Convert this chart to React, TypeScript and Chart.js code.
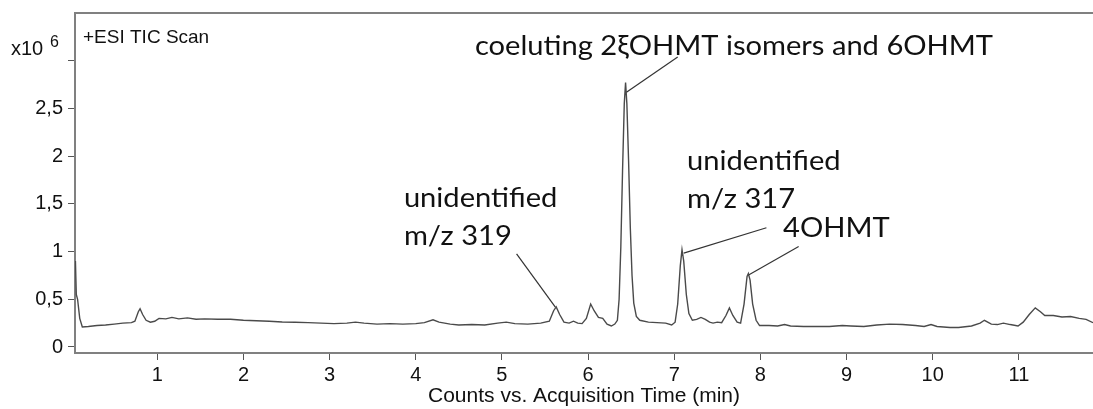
import React, { useEffect, useRef } from 'react';
import { Chart, registerables } from 'chart.js';

Chart.register(...registerables);

// Retention time (min) and TIC intensity (x10^6 counts)
const times = [
  0.05, 0.06, 0.075, 0.1, 0.13, 0.2, 0.3, 0.4, 0.5, 0.6, 0.7, 0.74, 0.78, 0.8, 0.83, 0.87, 0.92, 0.97,
  1.02, 1.1, 1.17, 1.25, 1.35, 1.45, 1.55, 1.7, 1.85, 2.0, 2.15, 2.3, 2.45, 2.6, 2.75, 2.9, 3.05, 3.2,
  3.3, 3.4, 3.55, 3.7, 3.85, 4.0, 4.1, 4.2, 4.27, 4.4, 4.5, 4.65, 4.8, 4.95, 5.05, 5.15, 5.3, 5.45,
  5.55, 5.6, 5.63, 5.67, 5.72, 5.78, 5.83, 5.88, 5.93, 5.98, 6.03, 6.07, 6.12, 6.17, 6.22, 6.27, 6.31,
  6.34, 6.36, 6.38, 6.4, 6.42, 6.435, 6.45, 6.47, 6.49, 6.51, 6.53, 6.56, 6.6, 6.7, 6.8, 6.9, 6.97,
  7.01, 7.04, 7.07, 7.09, 7.11, 7.14, 7.17, 7.21, 7.26, 7.31, 7.36, 7.41, 7.45, 7.5, 7.55, 7.6, 7.64,
  7.68, 7.73, 7.77, 7.81, 7.845, 7.86, 7.88, 7.91, 7.95, 7.99, 8.1, 8.2, 8.28, 8.35, 8.5, 8.65, 8.8,
  8.95, 9.05, 9.2, 9.35, 9.5, 9.65, 9.8, 9.9, 9.98, 10.05, 10.2, 10.3, 10.45, 10.55, 10.6, 10.68,
  10.75, 10.82, 10.9, 10.99, 11.05, 11.12, 11.19, 11.25, 11.3, 11.4, 11.5, 11.6, 11.7, 11.78, 11.86,
];
const counts = [
  0.9, 0.55, 0.5, 0.3, 0.21, 0.215, 0.225, 0.23, 0.24, 0.25, 0.255, 0.27, 0.37, 0.4, 0.34, 0.28, 0.26, 0.27,
  0.3, 0.295, 0.31, 0.295, 0.305, 0.29, 0.295, 0.29, 0.29, 0.28, 0.275, 0.27, 0.262, 0.26, 0.255, 0.25, 0.245, 0.25,
  0.26, 0.25, 0.24, 0.245, 0.24, 0.245, 0.255, 0.285, 0.26, 0.24, 0.23, 0.235, 0.23, 0.25, 0.26, 0.245, 0.24, 0.25,
  0.27, 0.38, 0.42, 0.34, 0.26, 0.25, 0.27, 0.25, 0.245, 0.3, 0.45, 0.38, 0.31, 0.3, 0.24, 0.22, 0.24,
  0.28, 0.5, 1.05, 1.85, 2.55, 2.77, 2.55, 1.95, 1.25, 0.75, 0.46, 0.32, 0.28, 0.26, 0.255, 0.25, 0.23,
  0.26, 0.45, 0.85, 1.02, 0.9, 0.55, 0.35, 0.28, 0.29, 0.31, 0.29, 0.26, 0.25, 0.26, 0.255, 0.33, 0.41,
  0.33, 0.26, 0.25, 0.45, 0.74, 0.77, 0.7, 0.45, 0.28, 0.225, 0.225, 0.22, 0.235, 0.22, 0.215, 0.215, 0.215,
  0.225, 0.22, 0.215, 0.23, 0.24, 0.235, 0.225, 0.215, 0.235, 0.215, 0.205, 0.205, 0.22, 0.25, 0.28, 0.24,
  0.235, 0.25, 0.235, 0.22, 0.26, 0.34, 0.41, 0.37, 0.33, 0.33, 0.315, 0.32, 0.3, 0.29, 0.255,
];

const xTicks = [1, 2, 3, 4, 5, 6, 7, 8, 9, 10, 11];
const yTicks = [0, 0.5, 1, 1.5, 2, 2.5, 3];
const yTickLabels = ['0', '0,5', '1', '1,5', '2', '2,5', ''];

// Peak labels: text anchor (time, intensity at first baseline), leader line from peak to label
const peakLabels = [
  { lines: ['coeluting 2ξOHMT isomers and 6OHMT'], at: [4.686, 3.058], from: [6.445, 2.67], to: [7.04, 3.04] },
  { lines: ['unidentified', 'm/z 319'], at: [3.862, 1.471], from: [5.62, 0.418], to: [5.17, 0.976] },
  { lines: ['unidentified', 'm/z 317'], at: [7.149, 1.855], from: [7.11, 0.983], to: [8.07, 1.25] },
  { lines: ['4OHMT'], at: [8.262, 1.157], from: [7.868, 0.756], to: [8.444, 1.052] },
];

const SANS = '"Liberation Sans", Arial, sans-serif';
const LABEL_FONT = '26px Lato, "Open Sans", sans-serif';
const LABEL_STRETCH = 1.12;
const LABEL_LINE_GAP = 38;
const FRAME = '#808080';
const TICK = '#555';

const decorations = {
  id: 'decorations',
  afterDraw(chart: any) {
    const { ctx, chartArea, scales } = chart;
    const xs = scales.x;
    const ys = scales.y;
    ctx.save();

    // top frame line
    ctx.strokeStyle = FRAME;
    ctx.lineWidth = 2;
    ctx.beginPath();
    ctx.moveTo(chartArea.left - 1, chartArea.top);
    ctx.lineTo(chartArea.right, chartArea.top);
    ctx.stroke();

    // exponent marker above the y axis
    ctx.fillStyle = '#111';
    ctx.textBaseline = 'alphabetic';
    ctx.textAlign = 'left';
    const y3 = ys.getPixelForValue(3);
    ctx.font = `20px ${SANS}`;
    ctx.fillText('x10', 11, y3 - 6);
    ctx.font = `16px ${SANS}`;
    ctx.fillText('6', 50, y3 - 14);

    // scan type
    ctx.font = `19px ${SANS}`;
    ctx.fillText('+ESI TIC Scan', chartArea.left + 8, chartArea.top + 30);

    // peak labels with leader lines
    ctx.strokeStyle = '#333';
    ctx.lineWidth = 1.2;
    for (const p of peakLabels) {
      ctx.beginPath();
      ctx.moveTo(xs.getPixelForValue(p.from[0]), ys.getPixelForValue(p.from[1]));
      ctx.lineTo(xs.getPixelForValue(p.to[0]), ys.getPixelForValue(p.to[1]));
      ctx.stroke();
      const tx = xs.getPixelForValue(p.at[0]);
      const ty = ys.getPixelForValue(p.at[1]);
      ctx.font = LABEL_FONT;
      p.lines.forEach((line, i) => {
        ctx.save();
        ctx.translate(tx, ty + i * LABEL_LINE_GAP);
        ctx.scale(LABEL_STRETCH, 1);
        ctx.fillText(line, 0, 0);
        ctx.restore();
      });
    }
    ctx.restore();
  },
};

export default function App() {
  const canvasRef = useRef<HTMLCanvasElement | null>(null);

  useEffect(() => {
    const canvas = canvasRef.current;
    if (!canvas) return;
    const chart = new Chart(canvas, {
      type: 'line',
      data: {
        datasets: [
          {
            data: times.map((t, i) => ({ x: t, y: counts[i] })),
            borderColor: '#4a4a4a',
            borderWidth: 1.4,
            pointRadius: 0,
            tension: 0,
            fill: false,
          },
        ],
      },
      options: {
        animation: false,
        responsive: false,
        maintainAspectRatio: false,
        layout: { padding: { top: 13, right: 0, bottom: 0, left: 0 } },
        plugins: { legend: { display: false }, tooltip: { enabled: false } },
        scales: {
          x: {
            type: 'linear',
            min: 0.045,
            max: 11.86,
            afterBuildTicks: (s: any) => {
              s.ticks = xTicks.map((v) => ({ value: v }));
            },
            afterFit: (s: any) => {
              s.height = 56;
              s.paddingLeft = 0;
              s.paddingRight = 0;
            },
            grid: { drawOnChartArea: false, drawTicks: true, tickLength: 7, color: TICK, lineWidth: 1 },
            border: { display: true, color: FRAME, width: 2 },
            ticks: {
              color: '#111',
              font: { family: SANS, size: 20 },
              padding: 3,
              maxRotation: 0,
              autoSkip: false,
              callback: (v: any) => String(v),
            },
            title: {
              display: true,
              text: 'Counts vs. Acquisition Time (min)',
              color: '#111',
              font: { family: SANS, size: 21 },
              padding: { top: 0, bottom: 0 },
            },
          },
          y: {
            type: 'linear',
            min: -0.063,
            max: 3.5,
            afterBuildTicks: (s: any) => {
              s.ticks = yTicks.map((v) => ({ value: v }));
            },
            afterFit: (s: any) => {
              s.width = 75;
              s.paddingTop = 0;
              s.paddingBottom = 0;
            },
            grid: { drawOnChartArea: false, drawTicks: true, tickLength: 7, color: TICK, lineWidth: 1 },
            border: { display: true, color: FRAME, width: 2 },
            ticks: {
              color: '#111',
              font: { family: SANS, size: 20 },
              padding: 5,
              autoSkip: false,
              callback: (_v: any, i: number) => yTickLabels[i] ?? '',
            },
          },
        },
      },
      plugins: [decorations],
    });
    return () => chart.destroy();
  }, []);

  return (
    <div style={{ position: 'absolute', left: 0, top: 0, width: 1093, height: 409, background: '#fff' }}>
      <canvas ref={canvasRef} width={1093} height={409} style={{ width: 1093, height: 409, display: 'block' }} />
    </div>
  );
}
